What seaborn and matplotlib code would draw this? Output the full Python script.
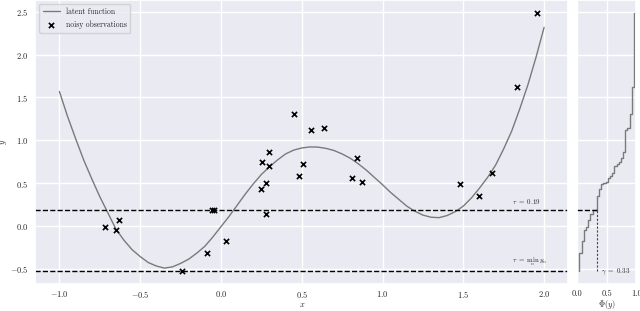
import numpy as np
import pandas as pd
import seaborn as sns
import matplotlib.pyplot as plt

# latent function, every 0.05
curve_x = [-1.0, -0.95, -0.9, -0.85, -0.8, -0.75, -0.7, -0.65, -0.6, -0.55,
           -0.5, -0.45, -0.4, -0.35, -0.3, -0.25, -0.2, -0.15, -0.1, -0.05,
           0.0, 0.05, 0.1, 0.15, 0.2, 0.25, 0.3, 0.35, 0.4, 0.45,
           0.5, 0.55, 0.6, 0.65, 0.7, 0.75, 0.8, 0.85, 0.9, 0.95,
           1.0, 1.05, 1.1, 1.15, 1.2, 1.25, 1.3, 1.35, 1.4, 1.45,
           1.5, 1.55, 1.6, 1.65, 1.7, 1.75, 1.8, 1.85, 1.9, 1.95, 2.0]
curve_y = [1.57, 1.28, 1.02, 0.77, 0.55, 0.34, 0.15, -0.04, -0.17, -0.28,
           -0.36, -0.43, -0.47, -0.495, -0.48, -0.44, -0.39, -0.32, -0.24, -0.13,
           -0.01, 0.11, 0.24, 0.37, 0.49, 0.60, 0.69, 0.77, 0.84, 0.885,
           0.91, 0.922, 0.92, 0.905, 0.88, 0.84, 0.79, 0.725, 0.65, 0.565,
           0.48, 0.39, 0.31, 0.23, 0.17, 0.125, 0.10, 0.095, 0.12, 0.165,
           0.23, 0.325, 0.44, 0.565, 0.71, 0.90, 1.11, 1.37, 1.65, 1.97, 2.32]

# noisy observations
obs_x = [-0.718, -0.632, -0.648, -0.244, -0.084, -0.057, -0.041, 0.033, 0.254,
         0.300, 0.295, 0.246, 0.281, 0.281, 0.484, 0.509, 0.451, 0.560,
         0.638, 0.841, 0.810, 0.874, 1.479, 1.600, 1.680, 1.832, 1.955]
obs_y = [-0.015, 0.062, -0.055, -0.533, -0.319, 0.19, 0.19, -0.183, 0.75,
         0.86, 0.70, 0.43, 0.505, 0.14, 0.583, 0.727, 1.303, 1.117,
         1.14, 0.79, 0.556, 0.517, 0.49, 0.35, 0.615, 1.618, 2.49]

tau = 0.19
gamma = 0.33
y_min = min(obs_y)

sns.set_theme(style="darkgrid")
plt.rcParams['font.family'] = 'serif'
plt.rcParams['font.serif'] = ['cmr10', 'DejaVu Serif']
plt.rcParams['mathtext.fontset'] = 'cm'
plt.rcParams['axes.formatter.use_mathtext'] = True
plt.rcParams['xtick.major.size'] = 0
plt.rcParams['ytick.major.size'] = 0
plt.rcParams['xtick.major.pad'] = 4
plt.rcParams['ytick.major.pad'] = 5

fig = plt.figure(figsize=(6.4, 3.11), dpi=100)
ax = fig.add_axes([0.055, 0.087, 0.833, 0.913])
ax_r = fig.add_axes([0.902, 0.087, 0.092, 0.913], sharey=ax)

sns.lineplot(x=curve_x, y=curve_y, ax=ax, color='#7a7a7a', lw=1, label='latent function')
sns.scatterplot(x=obs_x, y=obs_y, ax=ax, marker='x', color='black', s=14,
                linewidth=1.2, label='noisy observations', zorder=3)
ax.axhline(tau, color='black', ls='--', lw=1)
ax.axhline(y_min, color='black', ls='--', lw=1)
ax.text(1.80, tau + 0.04, r'$\tau\ =\ 0.19$', fontsize=5, va='bottom')
ax.text(1.80, y_min + 0.04, r'$\tau\ =\ \min_n\, y_n$', fontsize=5, va='bottom')

ax.set_ylim(-0.68, 2.64)
ax.set_xlim(-1.15, 2.15)
ax.set_xlabel('$x$', fontsize=6, labelpad=0)
ax.set_ylabel('$y$', fontsize=6)
ax.yaxis.set_label_coords(-0.05, 0.5)
ax.set_xticks([-1.0, -0.5, 0.0, 0.5, 1.0, 1.5, 2.0])
ax.set_yticks([-0.5, 0.0, 0.5, 1.0, 1.5, 2.0, 2.5])
ax.tick_params(labelsize=6)
ax.legend(loc='upper left', fontsize=5.5, frameon=True, borderpad=0.5,
          handlelength=2.2, labelspacing=0.6)

# empirical CDF of the observations, drawn from the lowest observation upward
ecdf_y = np.sort(obs_y)
ecdf_p = np.arange(1, len(ecdf_y) + 1) / len(ecdf_y)
ax_r.step(ecdf_p, ecdf_y, where='pre', color='#7a7a7a', lw=1)
ax_r.axhline(tau, xmin=0, xmax=gamma, color='black', ls='--', lw=1)
ax_r.plot([gamma, gamma], [y_min, tau], color='#444444', ls=(0, (2, 1.5)), lw=0.8)
ax_r.text(0.40, y_min, r'$\gamma\ =\ 0.33$', fontsize=5, va='center')
ax_r.set_xlim(0, 1)
ax_r.set_xticks([0.0, 0.5, 1.0])
ax_r.set_xticklabels(['0.0', '0.5', '1.0'])
ax_r.set_xlabel(r'$\Phi(y)$', fontsize=6, labelpad=0)
ax_r.set_ylabel('')
ax_r.tick_params(labelsize=6, labelleft=False)

fig.savefig('out.png', dpi=100)
